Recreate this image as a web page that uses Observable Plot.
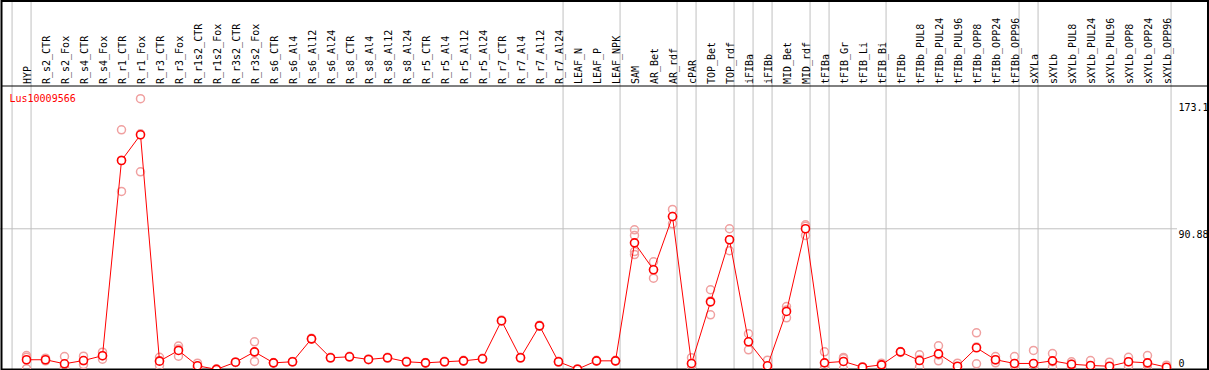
<!DOCTYPE html>
<html><head><meta charset="utf-8">
<script src="https://cdn.jsdelivr.net/npm/d3@7"></script>
<script src="https://cdn.jsdelivr.net/npm/@observablehq/plot@0.6"></script>
<style>body{margin:0;background:#fff}#chart svg{display:block}</style>
</head><body><div id="chart"></div>
<script>
const title = "Lus10009566";
const samples = ["HYP","R_s2_CTR","R_s2_Fox","R_s4_CTR","R_s4_Fox","R_r1_CTR","R_r1_Fox","R_r3_CTR","R_r3_Fox","R_r1s2_CTR","R_r1s2_Fox","R_r3s2_CTR","R_r3s2_Fox","R_s6_CTR","R_s6_Al4","R_s6_Al12","R_s6_Al24","R_s8_CTR","R_s8_Al4","R_s8_Al12","R_s8_Al24","R_r5_CTR","R_r5_Al4","R_r5_Al12","R_r5_Al24","R_r7_CTR","R_r7_Al4","R_r7_Al12","R_r7_Al24","LEAF_N","LEAF_P","LEAF_NPK","SAM","AR_Bet","AR_rdf","cPAR","TOP_Bet","TOP_rdf","iFIBa","iFIBb","MID_Bet","MID_rdf","tFIBa","tFIB_Gr","tFIB_Li","tFIB_Bi","tFIBb","tFIBb_PUL8","tFIBb_PUL24","tFIBb_PUL96","tFIBb_OPP8","tFIBb_OPP24","tFIBb_OPP96","sXYLa","sXYLb","sXYLb_PUL8","sXYLb_PUL24","sXYLb_PUL96","sXYLb_OPP8","sXYLb_OPP24","sXYLb_OPP96"];
const means = [6.3,6.3,3.7,5.8,8.9,135.0,151.6,5.4,12.3,2.4,0.1,4.7,11.4,4.3,5.0,19.8,7.6,8.2,6.5,7.6,5.0,4.3,5.0,5.6,6.9,31.5,7.6,28.2,5.0,0.2,5.6,5.6,81.8,64.4,98.8,3.9,43.7,83.8,17.9,2.4,37.5,90.9,4.3,5.2,1.5,3.0,11.4,5.8,10.1,2.1,14.0,6.3,3.9,3.9,5.6,3.4,2.6,2.1,5.0,4.3,1.5];
const replicates = [[9.0,7.9,0.5],[7.3,6.0,5.6],[8.4,1.8,0.9],[8.6,5.6,3.2],[11.2,8.8,6.7],[154.8,135.2,115.0],[174.9,152.2,127.7],[7.9,5.7,2.6],[15.1,13.2,8.6],[4.1,1.8,1.3],[0.3,0.1,0.0],[4.9,4.6,4.6],[17.9,11.1,5.2],[4.5,4.2,4.2],[5.2,4.9,4.9],[20.2,19.6,19.6],[7.9,7.5,7.4],[8.5,8.1,8.0],[6.8,6.4,6.3],[7.9,7.5,7.4],[5.3,4.9,4.8],[4.6,4.2,4.1],[5.3,4.9,4.8],[5.9,5.5,5.4],[7.2,6.8,6.7],[31.9,31.4,31.2],[7.9,7.5,7.4],[28.6,28.1,27.9],[5.3,4.9,4.8],[0.4,0.2,0.0],[5.9,5.5,5.4],[5.9,5.5,5.4],[90.2,86.6,76.2,74.2],[69.6,64.6,59.0],[103.4,98.9,94.1],[7.6,3.6,0.5],[51.5,44.3,35.3],[90.9,83.8,76.7],[23.1,17.9,12.7],[6.0,0.7,0.5],[40.7,38.4,33.4],[93.5,92.6,86.6],[11.4,1.0,0.6],[7.8,7.1,0.6],[1.8,1.5,1.2],[4.1,2.9,2.0],[11.6,11.4,11.0],[9.5,6.4,1.5],[15.3,9.4,5.6],[4.1,1.7,0.5],[23.7,14.6,3.7],[8.4,6.2,4.3],[8.4,3.3,0.0],[12.3,0.0,0.0],[10.3,5.0,1.5],[5.0,3.4,1.8],[5.8,1.5,0.5],[4.7,1.1,0.5],[7.9,5.0,2.1],[9.0,3.4,0.5],[2.8,1.2,0.5]];
const groupEnds = [-1,0,28,31,34,35,37,38,39,41,42,45,52,53,60];
const yTicks = [0, 90.88, 173.1];

const idx = samples.map((s, i) => i);
const repData = replicates.flatMap((r, i) => r.map(v => ({i, v})));

const chart = Plot.plot({
  width: 1209,
  height: 370,
  marginTop: 0, marginRight: 0, marginBottom: 1, marginLeft: 0,
  style: {fontFamily: "DejaVu Sans Mono", fontSize: "10px", background: "white", overflow: "visible"},
  x: {type: "linear", domain: [0, samples.length - 1], range: [26, 1166], axis: null},
  y: {type: "linear", domain: [0, 173.1], range: [369, 101], axis: null},
  marks: [
    Plot.ruleX(groupEnds, {x: d => d + 0.24, stroke: "#c0c0c0", strokeWidth: 1}),
    Plot.ruleY([yTicks[1]], {stroke: "#c0c0c0", strokeWidth: 1, insetRight: 32}),
    Plot.frame({stroke: "black", strokeWidth: 1, insetBottom: 283.5, insetLeft: 1, insetRight: 1.5}),
    Plot.frame({stroke: "black", strokeWidth: 2, insetLeft: 1, insetRight: 1.5, insetTop: 0.5}),
    Plot.text(samples, {x: (d, i) => i, text: d => d, frameAnchor: "top", rotate: -90, textAnchor: "start", lineAnchor: "bottom", dx: 4, dy: 83.5, fill: "black"}),
    Plot.text([title], {frameAnchor: "top-left", text: d => d, dx: 9, dy: 101, textAnchor: "start", lineAnchor: "bottom", fill: "red"}),
    Plot.text(yTicks.filter(t => t > 0), {y: d => d, text: d => String(d), frameAnchor: "right", dx: -31, textAnchor: "start", lineAnchor: "top", dy: 2, fill: "black"}),
    Plot.text([yTicks[0]], {y: d => d, text: d => String(d), frameAnchor: "right", dx: -31, textAnchor: "start", lineAnchor: "bottom", dy: -3, fill: "black"}),
    Plot.dot(repData, {x: "i", y: "v", r: 4, stroke: "#f0a0a0", strokeWidth: 1.5, fill: "none", clip: true}),
    Plot.line(idx, {x: i => i, y: i => means[i], stroke: "red", strokeWidth: 1, clip: true}),
    Plot.dot(idx, {x: i => i, y: i => means[i], r: 4, stroke: "red", strokeWidth: 1.6, fill: "white", clip: true})
  ]
});
document.getElementById("chart").appendChild(chart);
</script>
</body></html>
